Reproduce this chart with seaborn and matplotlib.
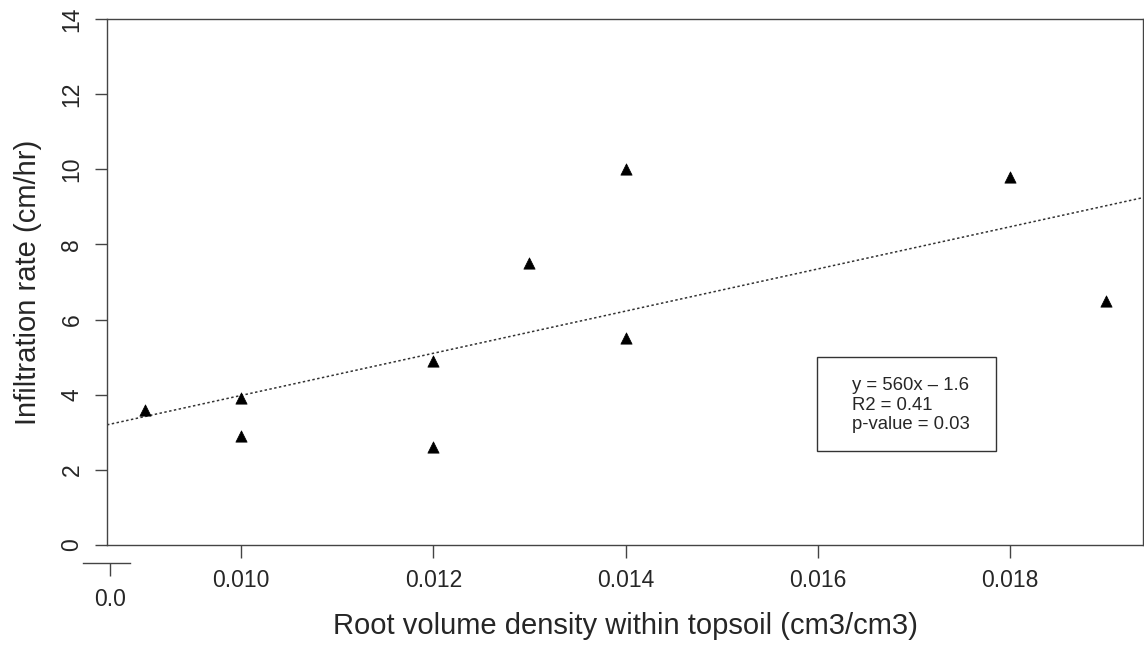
import numpy as np
import pandas as pd
import matplotlib
matplotlib.use("Agg")
import matplotlib.pyplot as plt
import matplotlib.patches as mpatches
import seaborn as sns

# data
root_density = [0.009, 0.010, 0.010, 0.012, 0.012, 0.013, 0.014, 0.014, 0.018, 0.019]
infiltration = [3.6, 3.9, 2.9, 4.9, 2.6, 7.5, 10.0, 5.5, 9.8, 6.5]
x_ticks = [0.010, 0.012, 0.014, 0.016, 0.018]
x_tick_labels = ["0.010", "0.012", "0.014", "0.016", "0.018"]
y_ticks = [0, 2, 4, 6, 8, 10, 12, 14]
stats_text = "y = 560x \u2013 1.6\nR2 = 0.41\np-value = 0.03"

df = pd.DataFrame({"x": root_density, "y": infiltration})

sns.set_style("white")
plt.rcParams["font.family"] = ["Liberation Sans", "DejaVu Sans"]

W, H = 1144, 645
fig = plt.figure(figsize=(W / 100, H / 100), dpi=100)
ax = fig.add_axes([107 / W, 1 - 545 / H, (1143 - 107) / W, (545 - 19) / H])

xlim = (0.008604, 0.019385)
ax.set_xlim(*xlim)
ax.set_ylim(0, 14)

sns.regplot(data=df, x="x", y="y", ax=ax, scatter=False, ci=None, truncate=False,
            line_kws=dict(color="#333333", lw=1.1, dashes=(1.6, 1.6)))
sns.scatterplot(data=df, x="x", y="y", ax=ax, marker="^", s=66, color="black",
                edgecolor="black", linewidth=0.5, zorder=5)
ax.set_xlim(*xlim)
ax.set_ylim(0, 14)

ax.set_xticks(x_ticks)
ax.set_xticklabels(x_tick_labels)
ax.set_yticks(y_ticks)
ax.set_yticklabels([str(v) for v in y_ticks], rotation=90, va="center")

for s in ax.spines.values():
    s.set_color("#444444")
    s.set_linewidth(1.0)

ax.tick_params(axis="both", direction="out", length=9, width=1.0, color="#444444",
               labelsize=16.5, bottom=True, left=True)
ax.tick_params(axis="x", pad=8)
ax.tick_params(axis="y", pad=8)

ax.set_xlabel("Root volume density within topsoil (cm3/cm3)", fontsize=21, labelpad=15)
ax.set_ylabel("Infiltration rate (cm/hr)", fontsize=21, labelpad=13)

# stats box
ax.add_patch(mpatches.Rectangle((0.685, 0.179), 0.173, 0.178, transform=ax.transAxes,
                                facecolor="white", edgecolor="#333333", lw=1.0, zorder=6))
ax.text(0.719, 0.266, stats_text, transform=ax.transAxes, fontsize=13.3,
        va="center", ha="left", linespacing=1.2, zorder=7)

# secondary small axis segment with "0.0"
ax2 = fig.add_axes([83 / W, 1 - 563 / H, 47 / W, 0.001])
ax2.set_xlim(-0.574, 0.426)
ax2.set_xticks([0.0])
ax2.set_xticklabels(["0.0"])
ax2.set_yticks([])
for k in ["top", "left", "right"]:
    ax2.spines[k].set_visible(False)
ax2.spines["bottom"].set_color("#444444")
ax2.spines["bottom"].set_linewidth(1.0)
ax2.patch.set_alpha(0)
ax2.tick_params(axis="x", direction="out", length=9, width=1.0, color="#444444",
                labelsize=16.5, pad=9, bottom=True)

fig.savefig("out.png", dpi=100)
